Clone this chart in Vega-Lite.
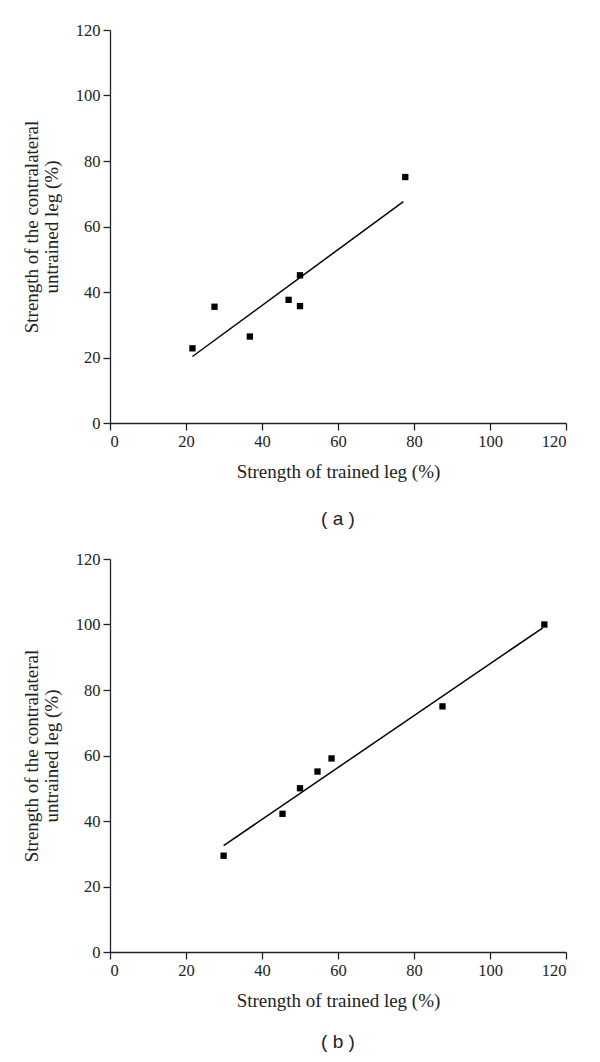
{
  "$schema": "https://vega.github.io/schema/vega-lite/v6.json",
  "background": "white",
  "padding": {"left": 22, "top": 22, "right": 30, "bottom": 5},
  "spacing": 22,
  "config": {
    "view": {"stroke": null},
    "font": "Liberation Serif",
    "axis": {
      "grid": false,
      "domainColor": "#222222",
      "domainWidth": 1.3,
      "tickColor": "#222222",
      "tickWidth": 1.3,
      "tickSize": 7,
      "labelColor": "#222222",
      "titleColor": "#222222",
      "labelFontSize": 16.5,
      "titleFontSize": 19,
      "titleFontWeight": "normal",
      "labelPadding": 3,
      "labelFont": "Liberation Serif",
      "titleFont": "Liberation Serif"
    }
  },
  "vconcat": [
    {
      "width": 456,
      "height": 393,
      "title": {"text": "( a )", "orient": "bottom", "anchor": "middle", "font": "Liberation Sans", "fontSize": 19, "fontWeight": "normal", "color": "#222222", "offset": 28},
      "layer": [
        {
          "data": {"values": [
            {"trained": 21.7, "untrained": 22.8},
            {"trained": 27.5, "untrained": 35.5},
            {"trained": 36.8, "untrained": 26.4},
            {"trained": 47.0, "untrained": 37.6},
            {"trained": 50.0, "untrained": 45.1},
            {"trained": 50.0, "untrained": 35.7},
            {"trained": 77.7, "untrained": 75.1}
          ]},
          "mark": {"type": "square", "size": 40, "color": "black", "opacity": 1},
          "encoding": {
            "x": {"field": "trained", "type": "quantitative", "scale": {"domain": [0, 120], "nice": false, "zero": false}, "axis": {"values": [0, 20, 40, 60, 80, 100, 120], "title": "Strength of trained leg (%)", "titlePadding": 13}},
            "y": {"field": "untrained", "type": "quantitative", "scale": {"domain": [0, 120], "nice": false, "zero": false}, "axis": {"values": [0, 20, 40, 60, 80, 100, 120], "title": ["Strength of the contralateral", "untrained leg (%)"], "titlePadding": 14, "titleLineHeight": 20}}
          }
        },
        {
          "data": {"values": [{"x1": 21.7, "y1": 20.3, "x2": 77.2, "y2": 67.6}]},
          "mark": {"type": "rule", "color": "black", "strokeWidth": 1.5},
          "encoding": {
            "x": {"field": "x1", "type": "quantitative"},
            "y": {"field": "y1", "type": "quantitative"},
            "x2": {"field": "x2"},
            "y2": {"field": "y2"}
          }
        }
      ]
    },
    {
      "width": 456,
      "height": 393,
      "title": {"text": "( b )", "orient": "bottom", "anchor": "middle", "font": "Liberation Sans", "fontSize": 19, "fontWeight": "normal", "color": "#222222", "offset": 22},
      "layer": [
        {
          "data": {"values": [
            {"trained": 29.9, "untrained": 29.4},
            {"trained": 45.4, "untrained": 42.2},
            {"trained": 50.0, "untrained": 50.0},
            {"trained": 54.6, "untrained": 55.1},
            {"trained": 58.3, "untrained": 59.1},
            {"trained": 87.5, "untrained": 75.0},
            {"trained": 114.3, "untrained": 100.0}
          ]},
          "mark": {"type": "square", "size": 40, "color": "black", "opacity": 1},
          "encoding": {
            "x": {"field": "trained", "type": "quantitative", "scale": {"domain": [0, 120], "nice": false, "zero": false}, "axis": {"values": [0, 20, 40, 60, 80, 100, 120], "title": "Strength of trained leg (%)", "titlePadding": 13}},
            "y": {"field": "untrained", "type": "quantitative", "scale": {"domain": [0, 120], "nice": false, "zero": false}, "axis": {"values": [0, 20, 40, 60, 80, 100, 120], "title": ["Strength of the contralateral", "untrained leg (%)"], "titlePadding": 14, "titleLineHeight": 20}}
          }
        },
        {
          "data": {"values": [{"x1": 29.9, "y1": 32.5, "x2": 113.9, "y2": 99.0}]},
          "mark": {"type": "rule", "color": "black", "strokeWidth": 1.5},
          "encoding": {
            "x": {"field": "x1", "type": "quantitative"},
            "y": {"field": "y1", "type": "quantitative"},
            "x2": {"field": "x2"},
            "y2": {"field": "y2"}
          }
        }
      ]
    }
  ]
}
